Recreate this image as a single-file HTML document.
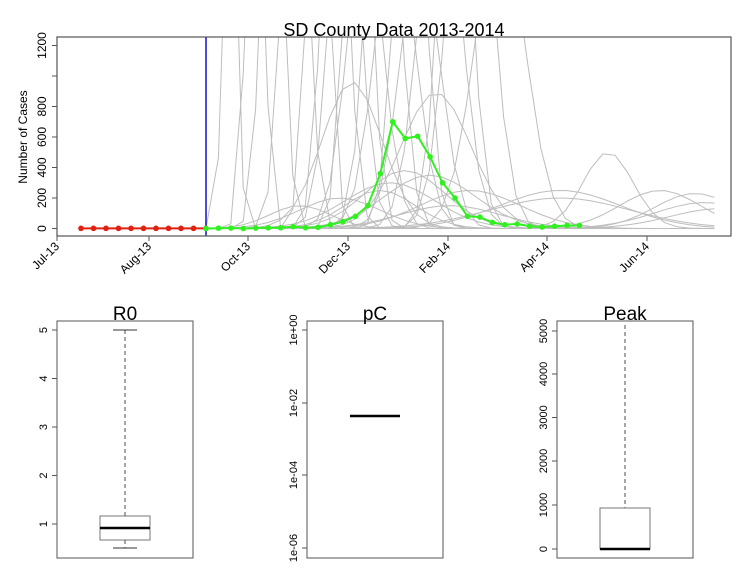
<!DOCTYPE html>
<html><head><meta charset="utf-8"><style>
html,body{margin:0;padding:0;background:#fff;width:750px;height:586px;overflow:hidden}
svg text{font-family:"Liberation Sans",Arial,sans-serif;fill:#000}
</style></head><body>
<svg id="s" width="750" height="586" xmlns="http://www.w3.org/2000/svg">
<defs><clipPath id="cp"><rect x="57" y="37" width="674" height="199"/></clipPath></defs>
<g id="gray" clip-path="url(#cp)" fill="none" stroke="#bdbdbd" stroke-width="1"></g>
<line x1="206" y1="37" x2="206" y2="236" stroke="#1010d0" stroke-width="1.5"/>
<g id="pts"></g>
<rect x="57" y="37" width="674" height="199" fill="none" stroke="#555" stroke-width="1.2"/>
<text x="394" y="36" font-size="18" text-anchor="middle">SD County Data 2013-2014</text>
<text transform="translate(27,137) rotate(-90)" font-size="12" text-anchor="middle">Number of Cases</text>
<g id="yax" font-size="12"></g>
<g id="xax" font-size="12"></g>

<!-- R0 -->
<rect x="57" y="321" width="136" height="237" fill="none" stroke="#555"/>
<text x="125" y="320" font-size="19" text-anchor="middle">R0</text>
<line x1="125" y1="330" x2="125" y2="516" stroke="#888" stroke-width="1.5" stroke-dasharray="4,3"/>
<line x1="125" y1="540" x2="125" y2="548" stroke="#888" stroke-width="1.5" stroke-dasharray="4,3"/>
<line x1="113" y1="330" x2="137" y2="330" stroke="#333"/>
<line x1="113" y1="548" x2="137" y2="548" stroke="#333"/>
<rect x="100" y="516" width="50" height="24" fill="#fff" stroke="#777"/>
<line x1="100" y1="528" x2="150" y2="528" stroke="#000" stroke-width="2.5"/>
<!-- pC -->
<rect x="307" y="321" width="136" height="237" fill="none" stroke="#555"/>
<text x="375" y="320" font-size="19" text-anchor="middle">pC</text>
<line x1="350" y1="416" x2="400" y2="416" stroke="#000" stroke-width="2.5"/>
<!-- Peak -->
<rect x="557" y="321" width="136" height="237" fill="none" stroke="#555"/>
<text x="625" y="320" font-size="19" text-anchor="middle">Peak</text>
<line x1="625" y1="325" x2="625" y2="508" stroke="#888" stroke-width="1.5" stroke-dasharray="4,3"/>
<rect x="600" y="508" width="50" height="41" fill="#fff" stroke="#777"/>
<line x1="600" y1="549" x2="650" y2="549" stroke="#000" stroke-width="2.5"/>
<g id="bax" font-size="11"></g>
</svg>
<script>
var NS="http://www.w3.org/2000/svg";
function el(p,t,a,txt){var e=document.createElementNS(NS,t);for(var k in a)e.setAttribute(k,a[k]);if(txt!=null)e.textContent=txt;document.getElementById(p).appendChild(e);return e;}
function Y(v){return 228.5-v*0.1525;}
// y axis
[0,200,400,600,800,1000,1200].forEach(function(v){var y=Y(v);el("yax","line",{x1:52,y1:y,x2:57,y2:y,stroke:"#555"});
 if(v!=1000)el("yax","text",{transform:"translate(46,"+y+") rotate(-90)","text-anchor":"middle"},String(v));});
// x axis
[["Jul-13",57],["Aug-13",149],["Oct-13",248],["Dec-13",348],["Feb-14",448],["Apr-14",547],["Jun-14",647]].forEach(function(d){
 el("xax","line",{x1:d[1],y1:236,x2:d[1],y2:241,stroke:"#555"});
 el("xax","text",{transform:"translate("+(d[1]+3)+",247) rotate(-45)","text-anchor":"end"},d[0]);});
// gray curves
var C=[[230,6,3000],[255,8,3000],[272,10,3000],[295,12,3000],[318,10,3000],[335,12,3000],[345,15,2500],[358,12,3000],[365,18,2000],[383,15,3000],[395,20,2000],[410,14,3000],[420,20,1800],[440,20,2500],[455,15,3000],[470,20,3000],[500,25,2000],[352,30,960],[436,35,890],[405,40,380],[430,45,350],[470,50,250],[560,60,250],[608,25,500],[660,40,250],[695,40,230],[705,50,170],[720,50,130],[560,70,200],[390,45,300],[380,35,250],[450,50,150],[340,40,200],[300,30,150]];
C.forEach(function(c){var d="";for(var x=206;x<=718;x+=12.4){var u=(x-c[0])/c[1];var v=c[2]*Math.exp(-0.5*u*u);d+=(d?"L":"M")+x.toFixed(1)+","+Y(v).toFixed(1);}
 el("gray","path",{d:d});});
// red points
var r=[];for(var x=81;x<=206.5;x+=12.5)r.push([x,Y(1)]);
el("pts","polyline",{points:r.map(function(p){return p.join(",")}).join(" "),fill:"none",stroke:"#e02010","stroke-width":2});
r.forEach(function(p){el("pts","circle",{cx:p[0],cy:p[1],r:2.8,fill:"#e02010"});});
var gv=[0,2,3,0,3,5,5,12,5,8,25,45,80,150,360,700,590,605,470,300,200,80,75,40,25,30,15,10,15,20,20];
var g=gv.map(function(v,i){return[206+i*12.45,Y(v)];});
el("pts","polyline",{points:g.map(function(p){return p.join(",")}).join(" "),fill:"none",stroke:"#30f020","stroke-width":2});
g.forEach(function(p){el("pts","circle",{cx:p[0],cy:p[1],r:2.8,fill:"#30f020"});});
// box axes
function ax(x,list){list.forEach(function(d){el("bax","line",{x1:x-5,y1:d[1],x2:x,y2:d[1],stroke:"#555"});
 el("bax","text",{transform:"translate("+(x-10)+","+d[1]+") rotate(-90)","text-anchor":"middle"},d[0]);});}
ax(57,[["1",524],["2",475.5],["3",427],["4",378.5],["5",330]]);
ax(307,[["1e+00",330],["1e-02",403],["1e-04",475],["1e-06",548]]);
ax(557,[["0",549],["1000",505],["2000",461],["3000",417.5],["4000",374],["5000",331]]);
</script>
</body></html>
